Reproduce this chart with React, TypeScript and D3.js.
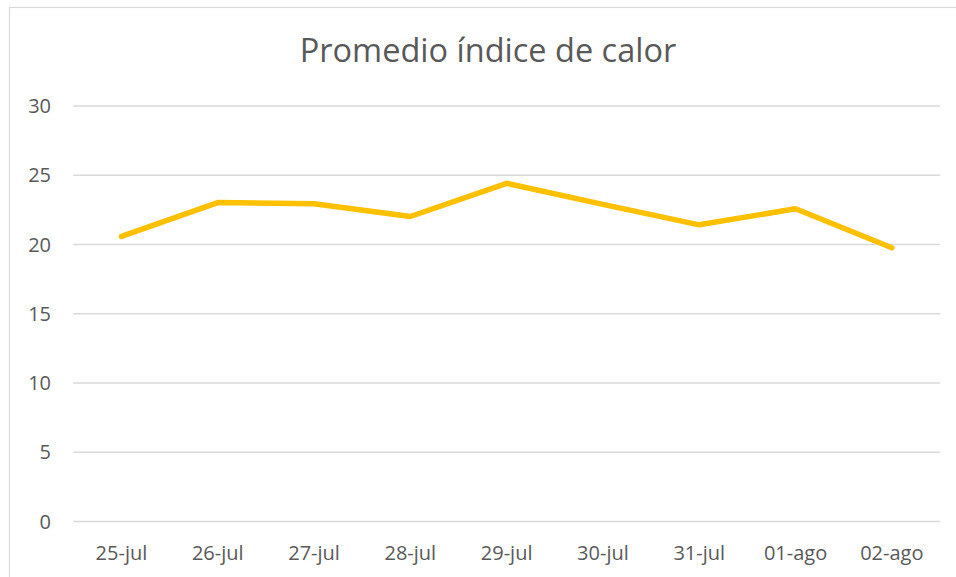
import { useEffect, useRef } from 'react';
import * as d3 from 'd3';

const categories = ['25-jul', '26-jul', '27-jul', '28-jul', '29-jul', '30-jul', '31-jul', '01-ago', '02-ago'];
const heatIndex = [20.58, 23.03, 22.94, 22.02, 24.42, 22.9, 21.42, 22.58, 19.76];
const yTicks = [0, 5, 10, 15, 20, 25, 30];
const title = 'Promedio índice de calor';

const W = 956;
const H = 577;
const FONT = "'Open Sans', 'Noto Sans', sans-serif";
const TEXT = '#595959';

const App = () => {
  const svgRef = useRef<SVGSVGElement>(null);

  useEffect(() => {
    const svg = d3.select(svgRef.current);
    svg.selectAll('*').remove();

    const margin = { top: 106, right: 16, bottom: 55.5, left: 73.3 };

    const x = d3
      .scaleBand()
      .domain(categories)
      .range([margin.left, W - margin.right])
      .padding(0);

    const y = d3
      .scaleLinear()
      .domain([0, 30])
      .range([H - margin.bottom, margin.top]);

    svg.append('rect').attr('width', W).attr('height', H).attr('fill', '#fff');

    // chart area border
    svg
      .append('rect')
      .attr('x', 9.5)
      .attr('y', 7.5)
      .attr('width', 980)
      .attr('height', 620)
      .attr('fill', 'none')
      .attr('stroke', '#d9d9d9')
      .attr('stroke-width', 1.2);

    svg
      .append('text')
      .attr('x', 488)
      .attr('y', 62)
      .attr('text-anchor', 'middle')
      .attr('font-family', FONT)
      .attr('font-size', 32.5)
      .attr('fill', TEXT)
      .text(title);

    const grid = svg.append('g');
    grid
      .selectAll('line')
      .data(yTicks)
      .enter()
      .append('line')
      .attr('x1', margin.left)
      .attr('x2', W - margin.right)
      .attr('y1', (d) => y(d))
      .attr('y2', (d) => y(d))
      .attr('stroke', '#d9d9d9')
      .attr('stroke-width', 1.4);

    svg
      .append('g')
      .selectAll('text')
      .data(yTicks)
      .enter()
      .append('text')
      .attr('x', 51)
      .attr('y', (d) => y(d))
      .attr('dy', '0.36em')
      .attr('text-anchor', 'end')
      .attr('font-family', FONT)
      .attr('font-size', 20)
      .attr('fill', TEXT)
      .text((d) => d);

    svg
      .append('g')
      .selectAll('text')
      .data(categories)
      .enter()
      .append('text')
      .attr('x', (d) => (x(d) as number) + x.bandwidth() / 2)
      .attr('y', 560)
      .attr('text-anchor', 'middle')
      .attr('font-family', FONT)
      .attr('font-size', 20)
      .attr('fill', TEXT)
      .text((d) => d);

    const line = d3
      .line<number>()
      .x((_, i) => (x(categories[i]) as number) + x.bandwidth() / 2)
      .y((d) => y(d));

    svg
      .append('path')
      .datum(heatIndex)
      .attr('d', line)
      .attr('fill', 'none')
      .attr('stroke', '#ffc000')
      .attr('stroke-width', 5.5)
      .attr('stroke-linejoin', 'round')
      .attr('stroke-linecap', 'round');
  }, []);

  return (
    <svg
      ref={svgRef}
      width={W}
      height={H}
      style={{ position: 'absolute', left: 0, top: 0, display: 'block' }}
    ></svg>
  );
};

export default App;
